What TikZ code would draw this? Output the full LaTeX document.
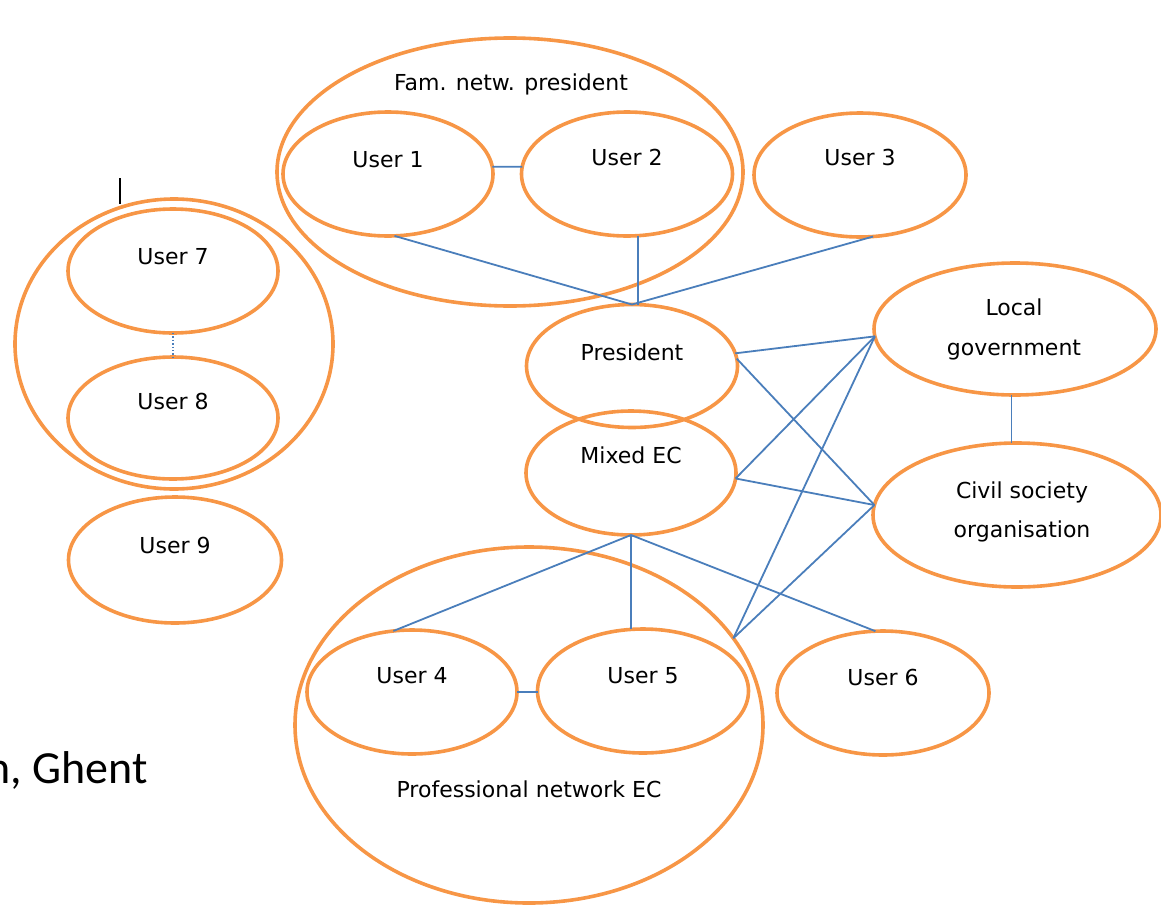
\documentclass[tikz,border=0pt]{standalone}
\usepackage{fontspec}
\setmainfont{DejaVu Sans}
\newfontfamily\ghentfont{Carlito}
\usetikzlibrary{shapes.geometric}
\definecolor{ringorange}{HTML}{F79646}
\definecolor{linkblue}{HTML}{4A7EBB}
\tikzset{
  ring/.style={ellipse, draw=ringorange, line width=3.6pt, inner sep=0pt, outer sep=0pt},
  link/.style={draw=linkblue, line width=1.8pt},
  lbl/.style={anchor=base, inner sep=0pt, font=\fontsize{22}{26}\selectfont, text=black}
}
\begin{document}
\begin{tikzpicture}[x=1pt, y=-1pt]
\useasboundingbox (0,0) rectangle (1161,905);

% groups
\node[ring, minimum width=466pt, minimum height=268pt] (fam) at (510,172) {};
\node[ring, minimum width=468pt, minimum height=356pt] (pn) at (529,725) {};
\node[ring, minimum width=318pt, minimum height=290pt] (grp) at (174,344) {};

% actors
\node[ring, minimum width=210pt, minimum height=124pt] (u1) at (388,174) {};
\node[ring, minimum width=211pt, minimum height=124pt] (u2) at (627,174) {};
\node[ring, minimum width=212pt, minimum height=124pt] (u3) at (860,175) {};
\node[ring, minimum width=211pt, minimum height=123pt] (pres) at (632,366) {};
\node[ring, minimum width=210pt, minimum height=124pt] (mx) at (631,473) {};
\node[ring, minimum width=282pt, minimum height=132pt] (lg) at (1015,329) {};
\node[ring, minimum width=288pt, minimum height=144pt] (cs) at (1017,515) {};
\node[ring, minimum width=210pt, minimum height=124pt] (u4) at (412,692) {};
\node[ring, minimum width=211pt, minimum height=124pt] (u5) at (643,691) {};
\node[ring, minimum width=212pt, minimum height=124pt] (u6) at (883,693) {};
\node[ring, minimum width=210pt, minimum height=124pt] (u7) at (173,271) {};
\node[ring, minimum width=210pt, minimum height=122pt] (u8) at (173,418) {};
\node[ring, minimum width=213pt, minimum height=126pt] (u9) at (175,560) {};

% labels
\node[lbl] (famt) at (511,90) {Fam. netw. president};
\node[lbl] (u1t) at (388,167) {User 1};
\node[lbl] (u2t) at (627,165) {User 2};
\node[lbl] (u3t) at (860,165) {User 3};
\node[lbl] (prest) at (632,360) {President};
\node[lbl] (mxt) at (631,463) {Mixed EC};
\node[lbl] (lgt1) at (1014,315) {Local};
\node[lbl] (lgt2) at (1014,355) {government};
\node[lbl] (cst1) at (1022,498) {Civil society};
\node[lbl] (cst2) at (1022,537) {organisation};
\node[lbl] (u4t) at (412,683) {User 4};
\node[lbl] (u5t) at (643,683) {User 5};
\node[lbl] (u6t) at (883,685) {User 6};
\node[lbl] (u7t) at (173,264) {User 7};
\node[lbl] (u8t) at (173,409) {User 8};
\node[lbl] (u9t) at (175,553) {User 9};
\node[lbl] (pnt) at (529,797) {Professional network EC};

% place name running off the left edge
\node[anchor=base east, inner sep=0pt, font=\ghentfont\fontsize{46}{52}\selectfont] (ghent) at (148,783) {n, Ghent};

% text cursor mark
\coordinate (curtop) at (120,178);
\coordinate (curbot) at (120,204);
\draw[black, line width=1.2pt] (curtop) -- (curbot);

% ties
\draw[link] (u1.4) -- (u2.176);
\draw[link] (u4.east) -- (u4.east -| u5.west);
\draw[link] (u1.-84) -- (pres.north);
\draw[link] (u2.-80) -- (u2.-80 |- pres.north);
\draw[link] (u3.-78) -- (pres.north);
\draw[link] (pres.7) -- (lg.183);
\draw[link] (pres.4) -- (cs.176);
\draw[link] (mx.-3) -- (lg.183);
\draw[link] (mx.-3) -- (cs.176);
\draw[link] (pn.23) -- (lg.183);
\draw[link] (pn.23) -- (cs.176);
\draw[link] (mx.south) -- (u4.107);
\draw[link] (mx.south) -- (mx.south |- u5.north);
\draw[link] (mx.south) -- (u6.97);
\draw[link] (lg.-93) -- (lg.-93 |- cs.north);
\draw[link, line width=1.4pt, dotted] (u7.south) -- (u8.north);
\end{tikzpicture}
\end{document}
